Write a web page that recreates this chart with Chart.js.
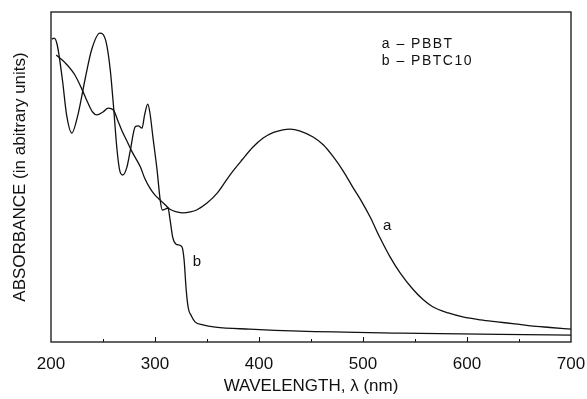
<!DOCTYPE html>
<html>
<head>
<meta charset="utf-8">
<script src="https://cdn.jsdelivr.net/npm/chart.js@4.4.1/dist/chart.umd.min.js"></script>
<style>
  html, body { margin: 0; padding: 0; background: #fff; }
  #chart { display: block; }
</style>
</head>
<body>
<canvas id="chart" width="587" height="399"></canvas>
<script>
// curve a - PBBT
const pbbtWavelength = [205, 213, 223, 230, 236, 240, 244, 250, 255, 260, 264, 268, 273, 278, 286, 290, 295, 300, 305, 310, 314, 321, 327, 334, 340, 350, 360, 372, 384, 394, 404, 414, 423, 430, 439, 452, 462, 471, 481, 490, 499, 507, 516, 526, 536, 548, 558, 567, 582, 596, 613, 629, 646, 661, 680, 700];
const pbbtAbsorbance = [0.870, 0.848, 0.809, 0.764, 0.721, 0.697, 0.688, 0.697, 0.709, 0.703, 0.673, 0.642, 0.609, 0.576, 0.530, 0.497, 0.467, 0.445, 0.430, 0.415, 0.403, 0.394, 0.391, 0.394, 0.400, 0.421, 0.452, 0.506, 0.553, 0.590, 0.618, 0.635, 0.643, 0.645, 0.640, 0.621, 0.597, 0.563, 0.518, 0.470, 0.424, 0.378, 0.318, 0.258, 0.208, 0.160, 0.128, 0.107, 0.088, 0.076, 0.067, 0.061, 0.055, 0.049, 0.044, 0.039];

// curve b - PBTC10
const pbtcWavelength = [201, 203, 206, 211, 215, 220, 226, 233, 239, 247, 253, 257, 260, 263.5, 266, 269, 273, 276, 281, 284, 287.5, 290, 293, 295, 298, 302, 305, 307, 310, 312.5, 314.5, 317, 320, 323, 326, 328, 330, 332, 335, 338.5, 346, 358, 391, 439, 536, 632, 700];
const pbtcAbsorbance = [0.918, 0.921, 0.900, 0.794, 0.688, 0.633, 0.690, 0.800, 0.885, 0.936, 0.909, 0.824, 0.718, 0.582, 0.521, 0.506, 0.530, 0.576, 0.652, 0.655, 0.648, 0.688, 0.721, 0.697, 0.621, 0.521, 0.430, 0.400, 0.403, 0.406, 0.370, 0.318, 0.297, 0.294, 0.288, 0.248, 0.158, 0.103, 0.079, 0.061, 0.052, 0.045, 0.039, 0.033, 0.027, 0.023, 0.021];

const xTickLabels = [200, 300, 400, 500, 600, 700];
const legendLines = ["a – PBBT", "b – PBTC10"];

const FONT = "'Liberation Sans', Arial, sans-serif";
const INK = "#111";

const toPoints = (xs, ys) => xs.map((x, i) => ({ x: x, y: ys[i] }));

// frame, inward ticks, legend text and curve letters
const decor = {
  id: "decor",
  beforeDraw(chart) {
    const ctx = chart.ctx;
    ctx.save();
    ctx.fillStyle = "#fff";
    ctx.fillRect(0, 0, chart.width, chart.height);
    ctx.restore();
  },
  afterDraw(chart) {
    const ctx = chart.ctx;
    const a = chart.chartArea;
    const xs = chart.scales.x;
    const ys = chart.scales.y;
    ctx.save();
    ctx.strokeStyle = INK;
    ctx.lineWidth = 1.3;
    ctx.strokeRect(a.left, a.top, a.right - a.left, a.bottom - a.top);

    ctx.lineWidth = 1;
    for (let v = 250; v < 700; v += 50) {
      const px = Math.round(xs.getPixelForValue(v)) + 0.5;
      ctx.beginPath();
      ctx.moveTo(px, a.bottom);
      ctx.lineTo(px, a.bottom - (v % 100 === 0 ? 5 : 3));
      ctx.stroke();
    }

    ctx.fillStyle = INK;
    ctx.letterSpacing = "1.5px";
    ctx.font = "14px " + FONT;
    ctx.textBaseline = "middle";
    ctx.textAlign = "left";
    ctx.fillText(legendLines[0], xs.getPixelForValue(518), ys.getPixelForValue(0.903));
    ctx.fillText(legendLines[1], xs.getPixelForValue(518), ys.getPixelForValue(0.852));

    ctx.font = "15px " + FONT;
    ctx.textAlign = "center";
    ctx.fillText("a", xs.getPixelForValue(524), ys.getPixelForValue(0.352));
    ctx.fillText("b", xs.getPixelForValue(341), ys.getPixelForValue(0.242));
    ctx.restore();
  }
};

const lineStyle = {
  borderColor: INK,
  borderWidth: 1.3,
  pointRadius: 0,
  fill: false,
  cubicInterpolationMode: "monotone"
};

new Chart(document.getElementById("chart"), {
  type: "line",
  data: {
    datasets: [
      Object.assign({ label: "a – PBBT", data: toPoints(pbbtWavelength, pbbtAbsorbance) }, lineStyle),
      Object.assign({ label: "b – PBTC10", data: toPoints(pbtcWavelength, pbtcAbsorbance) }, lineStyle)
    ]
  },
  options: {
    responsive: false,
    animation: false,
    layout: { padding: { left: 0, top: 12, right: 16, bottom: 0 } },
    plugins: {
      legend: { display: false },
      tooltip: { enabled: false }
    },
    scales: {
      x: {
        type: "linear",
        min: 200,
        max: 700,
        grid: { display: false, drawTicks: false },
        border: { display: false },
        afterBuildTicks: (scale) => { scale.ticks = xTickLabels.map(v => ({ value: v })); },
        ticks: {
          color: INK,
          padding: 12,
          maxRotation: 0,
          font: { family: FONT, size: 17 }
        },
        title: {
          display: true,
          text: "WAVELENGTH, λ (nm)",
          color: INK,
          padding: { top: 0, bottom: 2 },
          font: { family: FONT, size: 17 }
        },
        afterFit: (scale) => {
          scale.height = 57;
          scale.paddingLeft = 0;
          scale.paddingRight = 0;
        }
      },
      y: {
        min: 0,
        max: 1,
        grid: { display: false, drawTicks: false },
        border: { display: false },
        ticks: { display: false },
        title: {
          display: true,
          text: "ABSORBANCE (in abitrary units)",
          color: INK,
          padding: { top: 10, bottom: 0 },
          font: { family: FONT, size: 17 }
        },
        afterFit: (scale) => { scale.width = 51; }
      }
    }
  },
  plugins: [decor]
});
</script>
</body>
</html>
